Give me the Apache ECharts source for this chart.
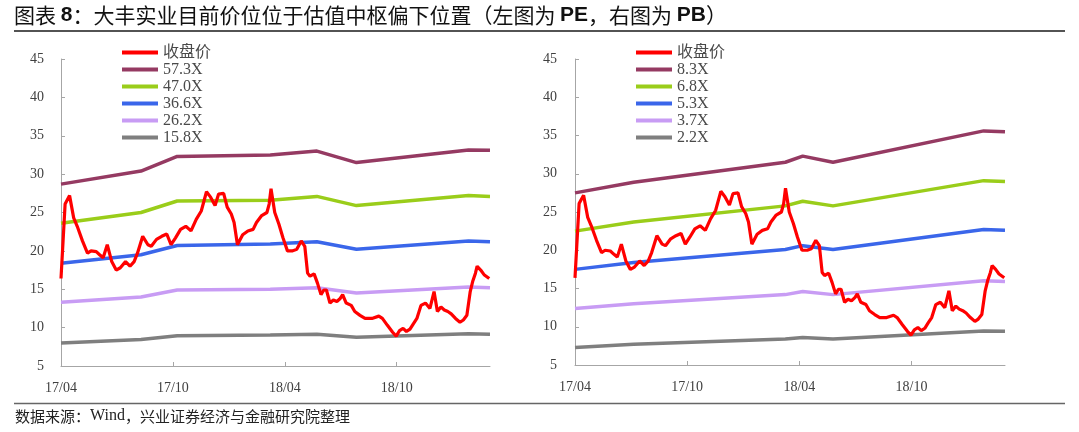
<!DOCTYPE html>
<html>
<head>
<meta charset="utf-8">
<script src="https://cdn.jsdelivr.net/npm/echarts@6/dist/echarts.min.js"></script>
<style>html,body{margin:0;padding:0;background:#fff}#c{width:1079px;height:432px}</style>
</head>
<body>
<div id="c"></div>
<script>
// ---- data ----
const tickLabels = ['17/04', '17/10', '18/04', '18/10'];
const tickMonths = [0, 6, 12, 18];

// closing price (x = months since 2017-04)
const priceMonths = [0,0.22,0.46,0.68,0.87,1.15,1.42,1.61,1.89,2.07,2.26,2.48,2.72,2.96,3.18,3.46,3.70,3.92,4.10,4.38,4.66,4.84,5.12,5.40,5.67,5.90,6.14,6.41,6.69,6.97,7.25,7.52,7.80,8.02,8.26,8.45,8.72,8.91,9.13,9.28,9.46,9.74,10.02,10.30,10.48,10.76,11.04,11.16,11.26,11.46,11.68,11.90,12.14,12.42,12.64,12.88,13.07,13.22,13.35,13.57,13.75,13.94,14.09,14.23,14.42,14.60,14.79,14.97,15.10,15.29,15.56,15.75,16.03,16.30,16.67,17.04,17.23,17.50,17.78,17.97,18.15,18.34,18.52,18.71,18.89,19.08,19.30,19.54,19.78,20.00,20.18,20.37,20.55,20.74,20.92,21.15,21.39,21.57,21.76,21.94,22.07,22.22,22.31,22.50,22.68,22.96];
const priceValues = [16.4,26.1,27.2,24.3,23.2,21.3,19.7,20.0,19.9,19.5,19.1,20.8,18.6,17.5,17.8,18.6,18.0,18.6,19.7,21.9,20.8,20.6,21.5,21.9,22.2,20.8,21.7,22.8,23.2,22.6,24.1,25.2,27.7,27.0,25.9,27.4,27.5,25.7,24.8,23.7,20.8,22.1,22.6,22.8,23.7,24.6,25.0,26.1,28.1,25.0,23.5,21.7,20.0,20.0,20.2,21.3,20.6,17.1,16.7,17.0,15.8,14.3,14.9,14.9,13.2,13.6,13.4,13.8,14.3,13.2,12.9,12.1,11.6,11.2,11.2,11.5,11.2,10.3,9.4,8.9,9.6,9.9,9.5,9.8,10.5,11.2,12.9,13.2,12.5,14.7,12.1,12.7,12.3,12.1,11.8,11.2,10.7,11.0,11.6,14.7,16.0,17.1,18.0,17.5,16.9,16.4];

// PE bands (left)
const peMonths = [0, 4.29, 6.23, 11.22, 13.72, 15.84, 21.85, 23.0];
const pe573 = [28.7, 30.4, 32.3, 32.5, 33.0, 31.5, 33.15, 33.1];
const pe470 = [23.6, 25.0, 26.5, 26.6, 27.1, 25.9, 27.2, 27.1];
const pe366 = [18.4, 19.5, 20.7, 20.9, 21.2, 20.2, 21.3, 21.2];
const pe262 = [13.3, 14.0, 14.9, 15.0, 15.2, 14.5, 15.3, 15.2];
const pe158 = [8.0, 8.45, 8.95, 9.05, 9.15, 8.75, 9.2, 9.15];

// PB bands (right)
const pbMonths = [0, 3.14, 11.25, 12.18, 13.8, 21.86, 23.0];
const pb83 = [27.5, 28.9, 31.5, 32.3, 31.5, 35.6, 35.5];
const pb68 = [22.5, 23.7, 25.8, 26.4, 25.8, 29.1, 29.0];
const pb53 = [17.5, 18.4, 20.1, 20.6, 20.1, 22.7, 22.6];
const pb37 = [12.4, 13.0, 14.2, 14.6, 14.2, 16.0, 15.9];
const pb22 = [7.3, 7.7, 8.4, 8.6, 8.4, 9.45, 9.4];

const peNames = ['57.3X', '47.0X', '36.6X', '26.2X', '15.8X'];
const pbNames = ['8.3X', '6.8X', '5.3X', '3.7X', '2.2X'];
const priceName = '收盘价';

// ---- styling ----
const bandColors = ['#953a62', '#9acd1a', '#3a66ea', '#c89cf4', '#7f7f7f'];
const priceColor = '#ff0000';
const serif = 'Liberation Serif, "Times New Roman", "Noto Sans CJK SC", serif';
const cjk = '"Noto Sans CJK SC", sans-serif';
const labelColor = '#404040';
const axisColor = '#a6a6a6';

const zip = (xs, ys) => xs.map((x, i) => [x, ys[i]]);

function xAxisFor(gi) {
  return {
    type: 'value', gridIndex: gi, min: 0, max: 23,
    axisLine: { show: true, onZero: false, lineStyle: { color: axisColor, width: 1 } },
    axisTick: { show: true, inside: true, length: 4, customValues: tickMonths, lineStyle: { color: axisColor } },
    axisLabel: {
      customValues: tickMonths,
      formatter: v => tickLabels[tickMonths.indexOf(Math.round(v))] || '',
      margin: 15, fontFamily: serif, fontSize: 14, color: labelColor
    },
    splitLine: { show: false }
  };
}
function yAxisFor(gi, margin) {
  return {
    type: 'value', gridIndex: gi, min: 5, max: 45, interval: 5,
    axisLine: { show: true, lineStyle: { color: axisColor, width: 1 } },
    axisTick: { show: true, inside: true, length: 4, lineStyle: { color: axisColor } },
    axisLabel: { margin: margin, fontFamily: serif, fontSize: 14, color: labelColor },
    splitLine: { show: false }
  };
}
function band(name, gi, xs, ys, color) {
  return {
    name: name, type: 'line', xAxisIndex: gi, yAxisIndex: gi,
    data: zip(xs, ys), symbol: 'none', showSymbol: false,
    lineStyle: { color: color, width: 3.5 }, itemStyle: { color: color },
    silent: true, z: 2
  };
}
function price(gi) {
  return {
    name: priceName, type: 'line', xAxisIndex: gi, yAxisIndex: gi,
    data: zip(priceMonths, priceValues), symbol: 'none', showSymbol: false,
    lineStyle: { color: priceColor, width: 3.2 }, itemStyle: { color: priceColor },
    silent: true, z: 3
  };
}
function legendFor(names, left) {
  return {
    data: [priceName].concat(names), orient: 'vertical', left: left, top: 44.5,
    icon: 'rect', itemWidth: 36, itemHeight: 4, itemGap: 1, padding: 0,
    selectedMode: false,
    textStyle: { fontFamily: serif, fontSize: 16, lineHeight: 16, color: '#4a4a4a' }
  };
}

const peSeries = [pe573, pe470, pe366, pe262, pe158];
const pbSeries = [pb83, pb68, pb53, pb37, pb22];

const series = [];
peNames.forEach((n, i) => series.push(band(n, 0, peMonths, peSeries[i], bandColors[i])));
series.push(price(0));
pbNames.forEach((n, i) => series.push(band(n, 1, pbMonths, pbSeries[i], bandColors[i])));
series.push(price(1));

const chart = echarts.init(document.getElementById('c'), null, { renderer: 'canvas' });
chart.setOption({
  animation: false,
  backgroundColor: '#fff',
  title: [
    {
      text: '{a|图表 }{b|8}{a|：大丰实业目前价位位于估值中枢偏下位置（左图为 }{b|PE}{a|，右图为 }{b|PB}{a|）}',
      left: 14, top: 3, padding: 0,
      textStyle: {
        fontWeight: 'normal',
        rich: {
          a: { fontFamily: cjk, fontWeight: 'normal', fontSize: 21, lineHeight: 24, color: '#111' },
          b: { fontFamily: 'Liberation Sans, Arial, sans-serif', fontWeight: 'bold', fontSize: 21, lineHeight: 24, color: '#111' }
        }
      }
    },
    {
      text: '{a|数据来源：}{w|Wind}{a|，兴业证券经济与金融研究院整理}',
      left: 15, top: 408, padding: 0,
      textStyle: {
        fontWeight: 'normal',
        rich: {
          a: { fontFamily: cjk, fontWeight: 'normal', fontSize: 15, lineHeight: 16, color: '#222' },
          w: { fontFamily: serif, fontWeight: 'normal', fontSize: 16, lineHeight: 16, color: '#222' }
        }
      }
    }
  ],
  graphic: [
    { type: 'line', shape: { x1: 14, y1: 31, x2: 1065, y2: 31 }, style: { stroke: '#1a1a1a', lineWidth: 1.5 }, silent: true },
    { type: 'line', shape: { x1: 14, y1: 403.5, x2: 1065, y2: 403.5 }, style: { stroke: '#666', lineWidth: 1.5 }, silent: true }
  ],
  legend: [legendFor(peNames, 122), legendFor(pbNames, 636)],
  grid: [
    { left: 61, top: 59, width: 429, height: 307 },
    { left: 575, top: 59, width: 430, height: 306 }
  ],
  xAxis: [xAxisFor(0), xAxisFor(1)],
  yAxis: [yAxisFor(0, 17), yAxisFor(1, 18)],
  series: series
});
</script>
</body>
</html>
